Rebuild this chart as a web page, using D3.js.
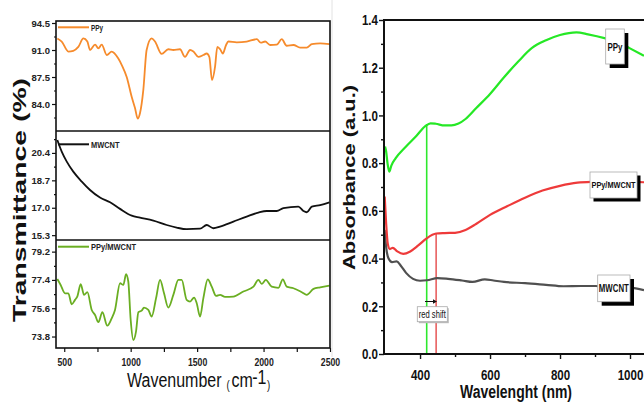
<!DOCTYPE html>
<html>
<head>
<meta charset="utf-8">
<script src="https://cdn.jsdelivr.net/npm/d3@7"></script>
<style>
  body { margin: 0; background: #fff; }
  svg { display: block; font-family: "Liberation Sans", Arial, sans-serif; }
</style>
</head>
<body>
<svg id="chart" width="644" height="403"></svg>
<script>
// ---- FTIR data: [wavenumber cm-1, transmittance %] ----
const ftirPPy = [[448,92.5],[481,92.1],[531,90.8],[568,90.9],[606,91.4],[644,92.5],[674,92.1],[694,91.0],[732,91.7],[757,91.2],[782,91.7],[820,90.35],[857,90.8],[907,89.9],[933,89.05],[970,87.5],[1008,84.9],[1033,83.45],[1053,82.1],[1070,82.8],[1095,85.8],[1120,91.0],[1158,92.5],[1183,92.1],[1233,90.5],[1283,91.1],[1321,91.0],[1371,91.1],[1409,90.1],[1447,91.0],[1472,90.8],[1509,90.1],[1547,90.35],[1572,90.55],[1592,90.1],[1612,87.1],[1635,88.85],[1652,91.4],[1673,91.1],[1693,90.55],[1718,91.65],[1735,92.1],[1798,92.0],[1873,92.1],[1949,92.4],[1979,91.95],[2012,92.1],[2049,91.65],[2099,91.7],[2137,92.4],[2174,91.55],[2225,91.65],[2275,91.3],[2325,91.3],[2363,91.75],[2426,91.85],[2496,91.75]];
const ftirMWCNT = [[448,21.2],[481,20.48],[519,19.86],[568,19.24],[632,18.62],[694,18.1],[769,17.63],[845,17.34],[920,16.93],[1008,16.51],[1070,16.39],[1171,16.2],[1271,15.93],[1346,15.77],[1421,15.67],[1522,15.7],[1572,15.93],[1622,15.73],[1672,15.83],[1773,16.14],[1873,16.45],[1961,16.7],[2024,16.8],[2099,16.8],[2149,16.97],[2262,17.07],[2300,16.8],[2325,16.72],[2363,17.07],[2426,17.17],[2496,17.34]];
const ftirComposite = [[448,77.46],[473,77.08],[506,76.55],[531,76.55],[556,75.85],[581,76.13],[598,76.34],[624,77.13],[649,76.45],[674,76.62],[707,75.49],[732,75.17],[757,74.71],[787,75.35],[824,74.49],[857,74.96],[882,75.49],[920,77.19],[945,77.08],[965,77.76],[982,77.3],[1000,74.86],[1020,73.58],[1040,74.11],[1058,75.35],[1083,75.45],[1100,75.64],[1133,75.49],[1158,75.07],[1191,76.24],[1221,77.4],[1251,76.55],[1283,75.64],[1321,76.45],[1359,77.4],[1384,77.4],[1421,76.13],[1447,76.02],[1477,76.28],[1497,75.92],[1522,75.07],[1547,76.24],[1580,77.44],[1610,76.97],[1643,76.38],[1673,76.45],[1710,76.32],[1773,76.34],[1848,76.66],[1924,76.97],[1961,77.4],[1986,77.15],[2017,77.4],[2061,76.97],[2112,76.9],[2145,77.44],[2174,76.97],[2225,76.87],[2288,76.62],[2325,76.45],[2376,76.83],[2426,76.93],[2496,77.04]];

// tick labels of the three stacked FTIR panels
const ppyTicks = [94.5, 91.0, 87.5, 84.0];
const mwcntTicks = [20.4, 18.7, 17.0, 15.3];
const compositeTicks = [79.2, 77.4, 75.6, 73.8];
const wavenumberTicks = [500, 1000, 1500, 2000, 2500];

// ---- UV-Vis data: [wavelength nm, absorbance a.u.] ----
const uvPPy = [[300,0.87],[303,0.85],[307,0.80],[312,0.764],[318,0.79],[330,0.82],[360,0.87],[390,0.915],[415,0.955],[430,0.967],[445,0.965],[470,0.958],[490,0.958],[510,0.966],[530,0.985],[560,1.03],[600,1.09],[640,1.16],[680,1.225],[720,1.283],[760,1.315],[800,1.337],[847,1.348],[880,1.34],[930,1.323],[970,1.305],[1000,1.281],[1040,1.25]];
const uvComposite = [[299,0.66],[303,0.55],[308,0.46],[314,0.44],[322,0.445],[335,0.43],[352,0.42],[372,0.43],[395,0.455],[419,0.485],[446,0.505],[470,0.507],[500,0.508],[530,0.52],[560,0.545],[600,0.583],[650,0.62],[700,0.655],[750,0.685],[800,0.705],[850,0.718],[900,0.722],[950,0.724],[1000,0.722],[1040,0.72]];
const uvMWCNT = [[299,0.52],[303,0.45],[310,0.40],[320,0.385],[333,0.388],[345,0.37],[360,0.34],[380,0.315],[400,0.307],[420,0.309],[450,0.318],[480,0.315],[520,0.308],[550,0.302],[585,0.313],[610,0.308],[640,0.302],[700,0.297],[760,0.29],[810,0.284],[860,0.285],[900,0.285],[960,0.28],[1000,0.278],[1040,0.268]];

const absorbanceTicks = [0.0, 0.2, 0.4, 0.6, 0.8, 1.0, 1.2, 1.4];
const wavelengthTicks = [400, 600, 800, 1000];

// absorption edges marked by vertical lines (PPy, PPy/MWCNT)
const edgeWavelengths = [419, 446];
const edgeAbsorbances = [0.964, 0.506];

const svg = d3.select('#chart');

// squeeze a text selection horizontally (the figure is narrow)
function squeeze(sel, k) {
    sel.each(function() {
        const w = this.getComputedTextLength();
        d3.select(this).attr('textLength', w * k).attr('lengthAdjust', 'spacingAndGlyphs');
    });
}

function midpoints(ticks, domain) {
    const step = ticks[0] - ticks[1];
    const out = [];
    for (let i = 0; i < ticks.length; i++) {
        [ticks[i] + step / 2, ticks[i] - step / 2].forEach(v => {
            if (v > domain[0] && v < domain[1] && !out.some(o => Math.abs(o - v) < 1e-6)) out.push(v);
        });
    }
    return out;
}

/* ================= LEFT: FTIR stacked panels ================= */
const left = {x0: 56, x1: 330, top: 21, bottom: 348};
const xW = d3.scaleLinear().domain([438, 2500]).range([left.x0, left.x1]);

const panels = [
    {data: ftirPPy, ticks: ppyTicks, domain: [80.5, 94.76], top: 21, bottom: 131, color: '#f68b2c', name: 'PPy', legendY: 27.3, labelW: 12},
    {data: ftirMWCNT, ticks: mwcntTicks, domain: [15.0, 21.76], top: 131, bottom: 240, color: '#111', name: 'MWCNT', legendY: 144.3, labelW: 28.5},
    {data: ftirComposite, ticks: compositeTicks, domain: [73.07, 79.94], top: 240, bottom: 348, color: '#6aae22', name: 'PPy/MWCNT', legendY: 246.7, labelW: 45}
];

const leftG = svg.append('g').attr('class', 'ftir');

panels.forEach(p => {
    const y = d3.scaleLinear().domain(p.domain).range([p.bottom, p.top]);

    const ax = leftG.append('g')
        .attr('transform', `translate(${left.x0},0)`)
        .call(d3.axisLeft(y).tickValues(p.ticks).tickFormat(d3.format('.1f')).tickSize(4).tickPadding(2));
    ax.select('.domain').remove();
    ax.selectAll('line').attr('stroke', '#111').attr('stroke-width', 1.2);
    ax.selectAll('text').attr('font-size', 9.5).attr('font-weight', 'bold').attr('fill', '#222');

    const mx = leftG.append('g')
        .attr('transform', `translate(${left.x0},0)`)
        .call(d3.axisLeft(y).tickValues(midpoints(p.ticks, p.domain)).tickFormat('').tickSize(2));
    mx.select('.domain').remove();
    mx.selectAll('line').attr('stroke', '#111').attr('stroke-width', 1.2);

    const line = d3.line()
        .x(d => xW(d[0]))
        .y(d => y(d[1]))
        .curve(d3.curveMonotoneX);

    leftG.append('path')
        .datum(p.data)
        .attr('d', line)
        .attr('fill', 'none')
        .attr('stroke', p.color)
        .attr('stroke-width', 1.8)
        .attr('stroke-linejoin', 'round');

    // legend
    leftG.append('line')
        .attr('x1', 58).attr('x2', 89)
        .attr('y1', p.legendY).attr('y2', p.legendY)
        .attr('stroke', p.color).attr('stroke-width', 2);
    leftG.append('text')
        .attr('x', 91).attr('y', p.legendY + 3.5)
        .attr('font-size', 9.5).attr('font-weight', 'bold').attr('fill', '#222')
        .attr('textLength', p.labelW).attr('lengthAdjust', 'spacingAndGlyphs')
        .text(p.name);
});

// frame + dividers
leftG.append('rect')
    .attr('x', left.x0).attr('y', left.top)
    .attr('width', left.x1 - left.x0).attr('height', left.bottom - left.top)
    .attr('fill', 'none').attr('stroke', '#111').attr('stroke-width', 1.6);
[131, 240].forEach(yy => {
    leftG.append('line')
        .attr('x1', left.x0).attr('x2', left.x1)
        .attr('y1', yy).attr('y2', yy)
        .attr('stroke', '#111').attr('stroke-width', 1.6);
});

// bottom axis
const bx = leftG.append('g')
    .attr('transform', `translate(0,${left.bottom})`)
    .call(d3.axisBottom(xW).tickValues(wavenumberTicks).tickFormat(d3.format('d')).tickSize(4).tickPadding(7));
bx.select('.domain').remove();
bx.selectAll('line').attr('stroke', '#111').attr('stroke-width', 1.2);
bx.selectAll('text').attr('font-size', 10).attr('font-weight', 'bold').attr('fill', '#222');
squeeze(bx.selectAll('text'), 0.87);

const bxm = leftG.append('g')
    .attr('transform', `translate(0,${left.bottom})`)
    .call(d3.axisBottom(xW).tickValues([750, 1250, 1750, 2250]).tickFormat('').tickSize(4));
bxm.select('.domain').remove();
bxm.selectAll('line').attr('stroke', '#111').attr('stroke-width', 1.2);

// axis titles
leftG.append('text')
    .attr('transform', 'translate(26,200) rotate(-90) scale(1,0.7)')
    .attr('text-anchor', 'middle')
    .attr('font-size', 26).attr('font-weight', 'bold').attr('fill', '#111')
    .attr('textLength', 244).attr('lengthAdjust', 'spacingAndGlyphs')
    .text('Transmittance (%)');

// "Wavenumber (cm-1)" as one squeezed text: small brackets, raised "-1"
const xTitle = leftG.append('text')
    .attr('transform', 'translate(127,387) scale(0.8,1)')
    .attr('font-size', 20).attr('fill', '#111');
xTitle.append('tspan').attr('x', 0).text('Wavenumber');
xTitle.append('tspan').attr('x', 124.5).attr('dy', 2).attr('font-size', 12).text('(');
xTitle.append('tspan').attr('x', 130.5).attr('dy', -2).text('cm');
xTitle.append('tspan').attr('x', 156.5).attr('dy', -3).text('-1');
xTitle.append('tspan').attr('x', 175).attr('dy', 5).attr('font-size', 12).text(')');

// faint border of the left image
svg.append('line')
    .attr('x1', 332).attr('x2', 332).attr('y1', 0).attr('y2', 357)
    .attr('stroke', '#e2e2e2').attr('stroke-width', 1);

/* ================= RIGHT: UV-Vis ================= */
const right = {x0: 384, top: 20, bottom: 354, edge: 644};
const xL = d3.scaleLinear().domain([297, 1000]).range([right.x0, 630]);
const yA = d3.scaleLinear().domain([0, 1.4]).range([right.bottom, right.top]);

const rightG = svg.append('g').attr('class', 'uv');

const series = [
    {data: uvMWCNT, color: '#505050'},
    {data: uvComposite, color: '#ee3a3a'},
    {data: uvPPy, color: '#25e825'}
];

const uvLine = d3.line()
    .x(d => xL(d[0]))
    .y(d => yA(d[1]))
    .curve(d3.curveMonotoneX);

// edge markers
const edgeColors = ['#2ee82e', '#e86060'];
rightG.selectAll('.edge')
    .data(edgeWavelengths)
    .enter()
    .append('line')
    .attr('class', 'edge')
    .attr('x1', d => xL(d)).attr('x2', d => xL(d))
    .attr('y1', yA(0))
    .attr('y2', (d, i) => yA(edgeAbsorbances[i]))
    .attr('stroke', (d, i) => edgeColors[i])
    .attr('stroke-width', 1.6);

series.forEach(s => {
    rightG.append('path')
        .datum(s.data)
        .attr('d', uvLine)
        .attr('fill', 'none')
        .attr('stroke', s.color)
        .attr('stroke-width', 2.2)
        .attr('stroke-linejoin', 'round');
});

// axes
const ay = rightG.append('g')
    .attr('transform', `translate(${right.x0},0)`)
    .call(d3.axisLeft(yA).tickValues(absorbanceTicks).tickFormat(d3.format('.1f')).tickSize(5).tickPadding(1));
ay.select('.domain').remove();
ay.selectAll('line').attr('stroke', '#111').attr('stroke-width', 1.4);
ay.selectAll('text').attr('font-size', 15).attr('font-weight', 'bold').attr('fill', '#111');
squeeze(ay.selectAll('text'), 0.77);

const aym = rightG.append('g')
    .attr('transform', `translate(${right.x0},0)`)
    .call(d3.axisLeft(yA).tickValues([0.1, 0.3, 0.5, 0.7, 0.9, 1.1, 1.3]).tickFormat('').tickSize(3));
aym.select('.domain').remove();
aym.selectAll('line').attr('stroke', '#111').attr('stroke-width', 1.4);

const axb = rightG.append('g')
    .attr('transform', `translate(0,${right.bottom})`)
    .call(d3.axisBottom(xL).tickValues(wavelengthTicks).tickFormat(d3.format('d')).tickSize(5).tickPadding(10));
axb.select('.domain').remove();
axb.selectAll('line').attr('stroke', '#111').attr('stroke-width', 1.4);
axb.selectAll('text').attr('font-size', 15).attr('font-weight', 'bold').attr('fill', '#111');
squeeze(axb.selectAll('text'), 0.77);

const axbm = rightG.append('g')
    .attr('transform', `translate(0,${right.bottom})`)
    .call(d3.axisBottom(xL).tickValues([500, 700, 900]).tickFormat('').tickSize(3));
axbm.select('.domain').remove();
axbm.selectAll('line').attr('stroke', '#111').attr('stroke-width', 1.4);

// frame (left, top, bottom)
rightG.append('path')
    .attr('d', `M${right.edge},${right.top}H${right.x0}V${right.bottom}H${right.edge}`)
    .attr('fill', 'none').attr('stroke', '#111').attr('stroke-width', 2);

// red shift arrow
const arrowY = yA(0.22);
rightG.append('line')
    .attr('x1', 425).attr('x2', 434).attr('y1', arrowY).attr('y2', arrowY)
    .attr('stroke', '#111').attr('stroke-width', 1);
rightG.append('path')
    .attr('d', `M437,${arrowY}l-4,-2.2v4.4z`)
    .attr('fill', '#111');

// labelled boxes with drop shadow
const boxes = [
    {x: 605.7, y: 29, w: 18.6, h: 35, text: 'PPy', size: 11.5, tw: 15, shadow: '#000', off: 4},
    {x: 590, y: 172, w: 47, h: 26, text: 'PPy/MWCNT', size: 9.5, tw: 44, shadow: '#000', off: 3.5},
    {x: 597.7, y: 275, w: 32.3, h: 26.7, text: 'MWCNT', size: 11, tw: 30, shadow: '#000', off: 4},
    {x: 417.3, y: 306.7, w: 30, h: 15, text: 'red shift', size: 10, tw: 27, shadow: '#bbb', off: 1.5, normal: true}
];
boxes.forEach(b => {
    rightG.append('rect')
        .attr('x', b.x + b.off).attr('y', b.y + b.off)
        .attr('width', b.w).attr('height', b.h)
        .attr('fill', b.shadow);
    rightG.append('rect')
        .attr('x', b.x).attr('y', b.y)
        .attr('width', b.w).attr('height', b.h)
        .attr('fill', '#fff').attr('stroke', '#aaa').attr('stroke-width', 0.8);
    rightG.append('text')
        .attr('x', b.x + b.w / 2).attr('y', b.y + b.h / 2 + b.size * 0.36)
        .attr('text-anchor', 'middle')
        .attr('font-size', b.size)
        .attr('font-weight', b.normal ? 'normal' : 'bold')
        .attr('fill', '#111')
        .attr('textLength', b.tw).attr('lengthAdjust', 'spacingAndGlyphs')
        .text(b.text);
});

// axis titles
rightG.append('text')
    .attr('transform', 'translate(355,177.5) rotate(-90) scale(1,0.74)')
    .attr('text-anchor', 'middle')
    .attr('font-size', 22).attr('font-weight', 'bold').attr('fill', '#111')
    .attr('textLength', 185).attr('lengthAdjust', 'spacingAndGlyphs')
    .text('Absorbance (a.u.)');

rightG.append('text')
    .attr('x', 516).attr('y', 398)
    .attr('text-anchor', 'middle')
    .attr('font-size', 18).attr('font-weight', 'bold').attr('fill', '#111')
    .attr('textLength', 112).attr('lengthAdjust', 'spacingAndGlyphs')
    .text('Wavelenght (nm)');
</script>
</body>
</html>
